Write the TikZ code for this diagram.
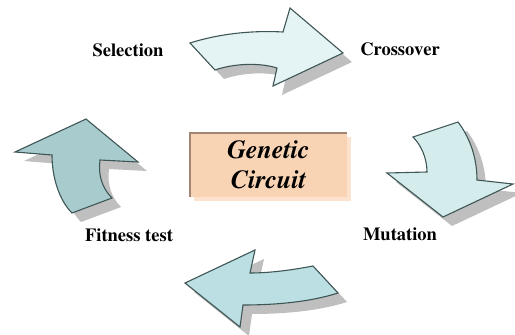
\documentclass[tikz,border=0pt]{standalone}
\usepackage[T1]{fontenc}
\usepackage{times}
\usetikzlibrary{shadows}

\definecolor{borde}{HTML}{3F5656}
\definecolor{azulA}{HTML}{E4F3F3}
\definecolor{azulB}{HTML}{D4ECEC}
\definecolor{azulC}{HTML}{BBDFE2}
\definecolor{azulD}{HTML}{A8CBCE}
\definecolor{durazno}{HTML}{F9D4B4}
\definecolor{duraznoclaro}{HTML}{FDE3CD}
\definecolor{cafe}{HTML}{A08572}

\begin{document}
\begin{tikzpicture}[x=1pt,y=-1pt,
	flecha/.style={draw=borde, line width=1.1pt, line join=miter,
		drop shadow={shadow xshift=9pt, shadow yshift=-9pt, fill=black!25, opacity=1}},
	etiqueta/.style={font=\fontsize{18.5}{22}\selectfont\bfseries, anchor=base}]
		\useasboundingbox (0,0) rectangle (515,335);

		%Seleccion a cruce
		\draw [flecha, fill=azulA] (190,43) .. controls (215,35) and (248,30) .. (283,32) -- (290,8) -- (343,53) -- (273,86) -- (277,68) .. controls (258,62) and (232,64) .. (215,70) -- cycle;
		%Cruce a mutacion
		\draw [flecha, fill=azulB] (413,137) -- (458,122) .. controls (468,135) and (477,155) .. (477,180) -- (513,184) -- (443,217) -- (387,173) -- (427,172) .. controls (427,158) and (421,145) .. (413,137) -- cycle;
		%Mutacion a aptitud
		\draw [flecha, fill=azulC] (313,266) -- (338,293) .. controls (310,302) and (275,305) .. (243,305) -- (240,327) -- (185,283) -- (255,250) -- (250,273) .. controls (270,273) and (292,270) .. (313,266) -- cycle;
		%Aptitud a seleccion
		\draw [flecha, fill=azulD] (72,213) -- (112,198) .. controls (102,188) and (98,175) .. (100,160) -- (138,162) -- (86,119) -- (15,152) -- (52,155) .. controls (52,177) and (59,200) .. (72,213) -- cycle;

		%Caja central
		\node (caja) [fill=durazno, minimum width=157pt, minimum height=64pt, inner sep=0pt, align=center,
			drop shadow={shadow xshift=4pt, shadow yshift=-4pt, fill=duraznoclaro, opacity=1},
			font=\fontsize{26}{30}\selectfont\bfseries\itshape] at (268.5,165) {Genetic\\Circuit};
		\draw [cafe, line width=1.5pt] (caja.south west) -- (caja.north west) -- (caja.north east);

		\node (seleccion) [etiqueta] at (128,56) {Selection};
		\node (cruce) [etiqueta] at (400,55) {Crossover};
		\node (mutacion) [etiqueta] at (400,240) {Mutation};
		\node (aptitud) [etiqueta] at (129,241) {Fitness test};
	\end{tikzpicture}
\end{document}
